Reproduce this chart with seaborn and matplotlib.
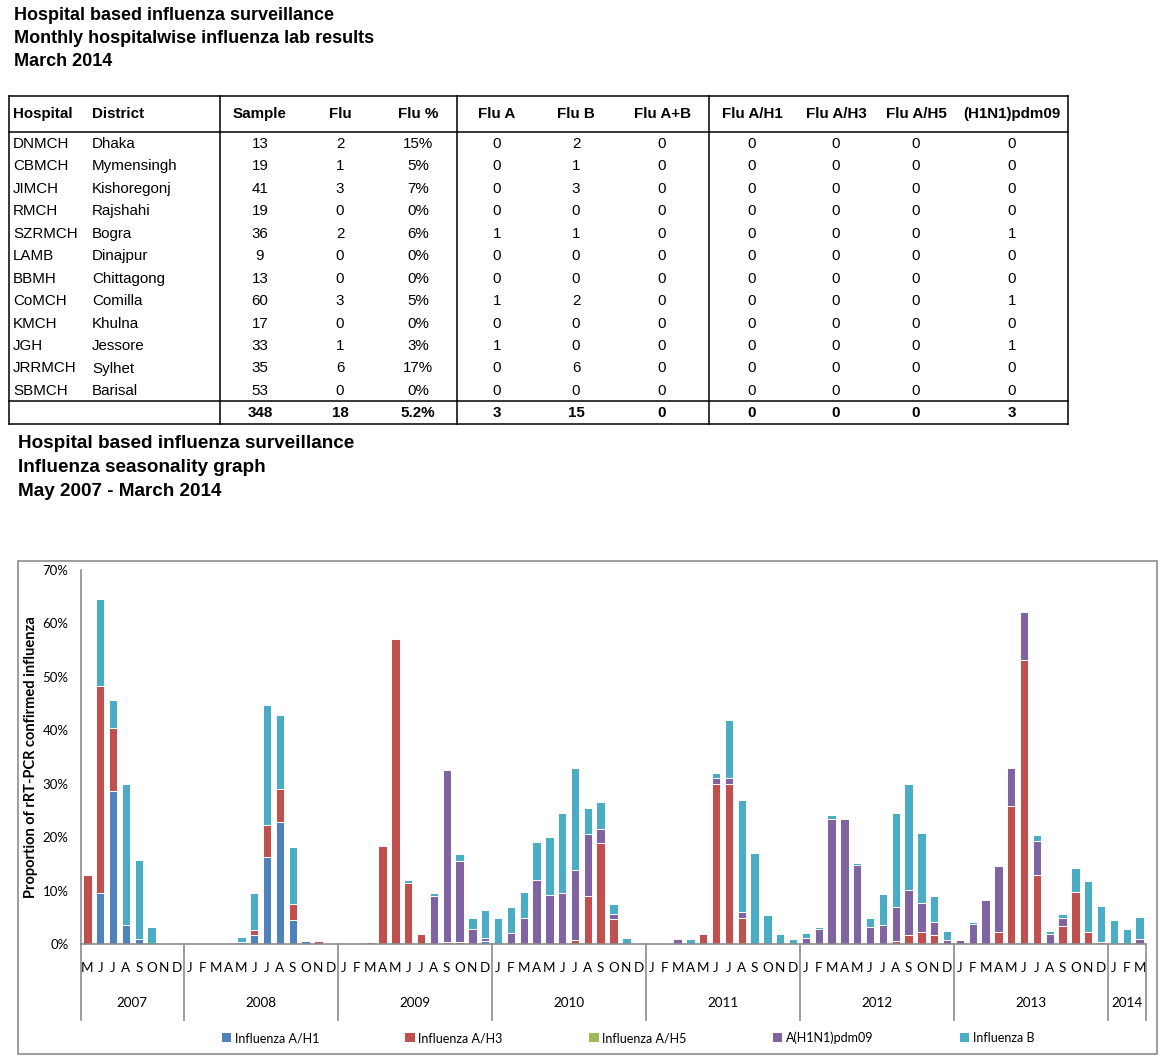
import numpy as np
import pandas as pd
import seaborn as sns
import matplotlib.pyplot as plt
from matplotlib.patches import Patch, Rectangle

# ---- table data (March 2014) ----
hospitals = ['DNMCH', 'CBMCH', 'JIMCH', 'RMCH', 'SZRMCH', 'LAMB', 'BBMH', 'CoMCH', 'KMCH', 'JGH', 'JRRMCH', 'SBMCH']
districts = ['Dhaka', 'Mymensingh', 'Kishoregonj', 'Rajshahi', 'Bogra', 'Dinajpur', 'Chittagong', 'Comilla',
             'Khulna', 'Jessore', 'Sylhet', 'Barisal']
sample = [13, 19, 41, 19, 36, 9, 13, 60, 17, 33, 35, 53]
flu = [2, 1, 3, 0, 2, 0, 0, 3, 0, 1, 6, 0]
flu_a = [0, 0, 0, 0, 1, 0, 0, 1, 0, 1, 0, 0]
flu_b = [2, 1, 3, 0, 1, 0, 0, 2, 0, 0, 6, 0]
flu_ab = [0] * 12
flu_h1 = [0] * 12
flu_h3 = [0] * 12
flu_h5 = [0] * 12
flu_pdm = [0, 0, 0, 0, 1, 0, 0, 1, 0, 1, 0, 0]

# ---- seasonality data, May 2007 - March 2014 (% of samples) ----
month_letters = ['J', 'F', 'M', 'A', 'M', 'J', 'J', 'A', 'S', 'O', 'N', 'D']
years = [2007, 2008, 2009, 2010, 2011, 2012, 2013, 2014]

h1 = [0, 9.5, 28.6, 3.6, 1.0, 0, 0, 0,
      0, 0, 0, 0, 0.4, 1.7, 16.2, 22.9, 4.4, 0.5, 0, 0,
      0, 0, 0, 0, 0, 0, 0, 0, 0, 0, 0, 0.6,
      0, 0, 0, 0, 0, 0, 0, 0, 0, 0, 0, 0,
      0, 0, 0, 0, 0, 0, 0, 0, 0, 0, 0, 0,
      0, 0, 0, 0, 0, 0, 0, 0, 0, 0, 0, 0,
      0, 0, 0, 0, 0, 0, 0, 0, 0, 0, 0, 0,
      0, 0, 0]
h3 = [13.0, 38.8, 11.9, 0, 0, 0, 0, 0,
      0, 0, 0, 0, 0, 0.9, 6.0, 6.2, 3.0, 0, 0.5, 0,
      0, 0, 0.4, 18.4, 57.0, 11.4, 1.9, 0, 0.4, 0.4, 0, 0,
      0, 0, 0, 0, 0, 0, 0.8, 8.9, 18.9, 4.7, 0, 0,
      0, 0, 0, 0, 1.9, 30.0, 30.0, 4.9, 0, 0, 0, 0,
      0, 0, 0, 0, 0, 0, 0, 0.6, 1.6, 2.3, 1.6, 0,
      0, 0, 0, 2.3, 25.9, 53.1, 12.9, 0, 3.4, 9.7, 2.3, 0.3,
      0, 0, 0]
h5 = [0] * 83
pdm = [0, 0, 0, 0, 0, 0, 0, 0,
       0, 0, 0, 0, 0, 0, 0, 0, 0, 0, 0, 0,
       0, 0, 0, 0, 0, 0, 0, 8.9, 32.1, 15.1, 2.9, 0.6,
       0, 2.1, 4.9, 11.9, 9.2, 9.5, 13.0, 11.6, 2.6, 1.0, 0, 0,
       0, 0, 0.9, 0, 0, 1.0, 1.0, 1.0, 0, 0, 0, 0,
       1.2, 2.9, 23.4, 23.4, 14.7, 3.1, 3.6, 6.3, 8.6, 5.3, 2.5, 0.7,
       0.75, 3.7, 8.2, 12.3, 7.1, 9.1, 6.3, 1.9, 1.5, 0, 0, 0,
       0, 0, 0.9]
flub = [0, 16.2, 5.2, 26.4, 14.8, 3.2, 0, 0,
        0, 0, 0, 0, 0.9, 7.0, 22.6, 13.7, 10.7, 0, 0, 0,
        0, 0, 0, 0, 0, 0.6, 0, 0.6, 0, 1.3, 2.0, 5.2,
        4.9, 4.8, 4.8, 7.1, 10.8, 15.1, 19.1, 5.0, 5.0, 1.8, 1.1, 0,
        0, 0, 0, 0.9, 0, 1.0, 11.0, 21.1, 17.0, 5.4, 1.9, 0.9,
        0.8, 0.3, 0.7, 0.2, 0.5, 1.8, 5.8, 17.7, 19.7, 13.2, 4.9, 1.7,
        0, 0.4, 0, 0, 0, 0, 1.2, 0.5, 0.8, 4.6, 9.5, 6.9,
        4.4, 2.9, 4.2]

series_names = ['Influenza A/H1', 'Influenza A/H3', 'Influenza A/H5', 'A(H1N1)pdm09', 'Influenza B']
colors = ['#4F81BD', '#C0504D', '#9BBB59', '#8064A2', '#4BACC6']

# month categories
keys, mlabels, myear = [], [], []
y, m = 2007, 5
for _ in range(len(h1)):
    keys.append(f'{y}-{m:02d}')
    mlabels.append(month_letters[m - 1])
    myear.append(y)
    m += 1
    if m > 12:
        m, y = 1, y + 1

df = pd.DataFrame({'month': keys, 'h1': h1, 'h3': h3, 'h5': h5, 'pdm': pdm, 'b': flub})
stack = df[['h1', 'h3', 'h5', 'pdm', 'b']].cumsum(axis=1)

W, H = 1164, 1062
fig = plt.figure(figsize=(W / 100, H / 100), dpi=100)
sans = ['Liberation Sans', 'DejaVu Sans']
cal = ['Lato', 'DejaVu Sans']

# background axes in pixel coordinates for titles and table
bg = fig.add_axes([0, 0, 1, 1])
bg.set_xlim(0, W)
bg.set_ylim(H, 0)
bg.axis('off')

for i, t in enumerate(['Hospital based influenza surveillance', 'Monthly hospitalwise influenza lab results',
                       'March 2014']):
    bg.text(14, 15 + i * 23.5, t, fontsize=13, fontweight='bold', family=sans, va='center')
for i, t in enumerate(['Hospital based influenza surveillance', 'Influenza seasonality graph',
                       'May 2007 - March 2014']):
    bg.text(18, 444 + i * 24, t, fontsize=13.6, fontweight='bold', family=sans, va='center')

# table
headers = ['Hospital', 'District', 'Sample', 'Flu', 'Flu %', 'Flu A', 'Flu B', 'Flu A+B',
           'Flu A/H1', 'Flu A/H3', 'Flu A/H5', '(H1N1)pdm09']
col_x = [13, 92, 260, 340, 418, 497, 576, 662, 752, 836, 916, 1012]
col_ha = ['left', 'left'] + ['center'] * 10
pct = [f'{100 * f / s:.0f}%' for f, s in zip(flu, sample)]
cols = [hospitals, districts, sample, flu, pct, flu_a, flu_b, flu_ab, flu_h1, flu_h3, flu_h5, flu_pdm]
totals = ['', '', sum(sample), sum(flu), f'{100 * sum(flu) / sum(sample):.1f}%', sum(flu_a), sum(flu_b),
          sum(flu_ab), sum(flu_h1), sum(flu_h3), sum(flu_h5), sum(flu_pdm)]

for x, ha, h in zip(col_x, col_ha, headers):
    bg.text(x, 114, h, fontsize=10.9, fontweight='bold', family=sans, ha=ha, va='center')
for r in range(len(hospitals)):
    yy = 144 + r * 22.45
    for x, ha, c in zip(col_x, col_ha, cols):
        bg.text(x, yy, str(c[r]), fontsize=10.9, family=sans, ha=ha, va='center')
for x, ha, t in zip(col_x, col_ha, totals):
    bg.text(x, 413, str(t), fontsize=10.9, fontweight='bold', family=sans, ha=ha, va='center')

for yy in [96, 132, 401, 424]:
    bg.plot([9, 1068], [yy, yy], color='black', lw=1.1)
for xx in [9, 220, 457, 709, 1068]:
    bg.plot([xx, xx], [96, 424], color='black', lw=1.1)

# chart border
bg.add_patch(Rectangle((18, 561), 1139, 493, fill=False, edgecolor='#8c8c8c', lw=1.2))

# ---- seasonality chart ----
x0, x1, y0, y1 = 81, 1146, 944, 570
ax = fig.add_axes([x0 / W, (H - y0) / H, (x1 - x0) / W, (y0 - y1) / H])
ax.patch.set_alpha(0)

layers = ['b', 'pdm', 'h5', 'h3', 'h1']
for col, c in zip(layers, colors[::-1]):
    sns.barplot(x=df['month'], y=stack[col], color=c, saturation=1, width=0.65,
                edgecolor='#ffffff', linewidth=0.7, ax=ax)

ax.set_xlim(-0.5, len(keys) - 0.5)
ax.set_ylim(0, 70)
ax.set_yticks(range(0, 71, 10))
ax.set_yticklabels([f'{v}%' for v in range(0, 71, 10)], fontsize=9.5, family=cal)
ax.set_xticks(range(len(keys)))
ax.set_xticklabels(mlabels, fontsize=9.7, family=cal)
ax.tick_params(axis='both', length=0)
ax.tick_params(axis='x', pad=13)
ax.tick_params(axis='y', pad=9)
ax.set_xlabel('')
ax.set_ylabel('Proportion of rRT-PCR confirmed influenza', fontsize=10.5, fontweight='bold', family=cal,
               labelpad=3)
for s in ['top', 'right']:
    ax.spines[s].set_visible(False)
for s in ['left', 'bottom']:
    ax.spines[s].set_color('#8c8c8c')
    ax.spines[s].set_linewidth(1.2)

# year groups and separators
tr = ax.get_xaxis_transform()
sep_bottom = -(1020 - y0) / (y0 - y1)
year_y = -(1003 - y0) / (y0 - y1)
idx = np.arange(len(keys))
myear = np.array(myear)
for yr in years:
    sel = idx[myear == yr]
    ax.text((sel[0] + sel[-1]) / 2, year_y, str(yr), transform=tr, ha='center', va='center',
            fontsize=9.7, family=cal)
    ax.plot([sel[0] - 0.5] * 2, [0, sep_bottom], transform=tr, color='#8c8c8c', lw=1.2, clip_on=False)
ax.plot([idx[-1] + 0.5] * 2, [0, sep_bottom], transform=tr, color='#8c8c8c', lw=1.2, clip_on=False)

handles = [Patch(facecolor=c, edgecolor='none') for c in colors]
fig.legend(handles, series_names, loc='center', bbox_to_anchor=(628 / W, (H - 1038) / H), ncol=5,
           frameon=False, handlelength=0.75, handleheight=0.75, handletextpad=0.3,
           columnspacing=6.9, prop={'family': cal, 'size': 9})

fig.savefig('out.png', dpi=100, facecolor='white')
